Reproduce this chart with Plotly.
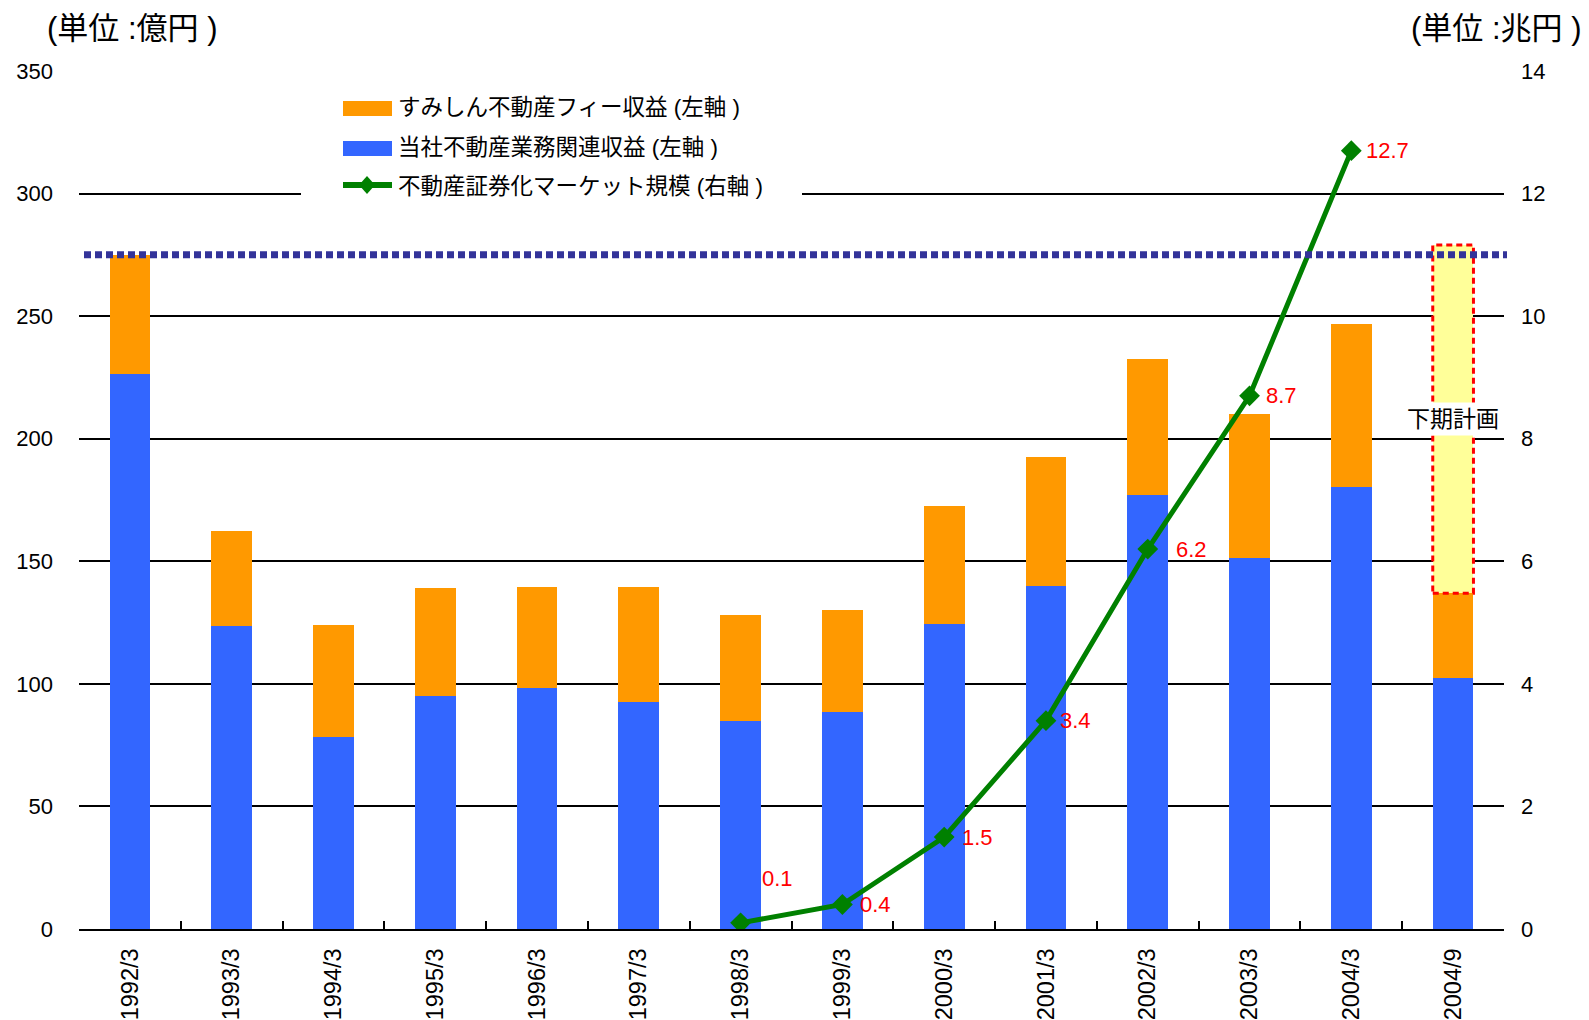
import plotly.graph_objects as go

# ---------------- data ----------------
categories = ["1992/3", "1993/3", "1994/3", "1995/3", "1996/3", "1997/3", "1998/3",
              "1999/3", "2000/3", "2001/3", "2002/3", "2003/3", "2004/3", "2004/9"]
own_revenue = [226.5, 123.5, 78.5, 95, 98.5, 92.5, 85, 88.5, 124.5, 140, 177, 151.5, 180.5, 102.5]
sumishin_fee = [48.5, 39, 45.5, 44, 41, 47, 43, 41.5, 48, 52.5, 55.5, 58.5, 66.5, 34.5]
plan_category = ["2004/9"]
plan_value = [142]
market_categories = ["1998/3", "1999/3", "2000/3", "2001/3", "2002/3", "2003/3", "2004/3"]
market_size = [0.1, 0.4, 1.5, 3.4, 6.2, 8.7, 12.7]
target_level = 275
left_ticks = [0, 50, 100, 150, 200, 250, 300, 350]
right_ticks = [0, 2, 4, 6, 8, 10, 12, 14]

legend_labels = ["すみしん不動産フィー収益 (左軸 )", "当社不動産業務関連収益 (左軸 )", "不動産証券化マーケット規模 (右軸 )"]
left_unit = "(単位 :億円 )"
right_unit = "(単位 :兆円 )"
plan_label = "下期計画"

# ---------------- style ----------------
W, H = 1589, 1020
L, R, T, B = 79, 85, 71, 91
FONT = "Liberation Sans, Arial, Noto Sans CJK JP, sans-serif"
BLUE = "#3366FF"
ORANGE = "#FF9900"
GREEN = "#008000"
YELLOW = "#FFFF99"
NAVY = "#333399"
BAR_W = 0.40
label_shifts = [(37, 44), (33, 0), (33, 0), (30, 0), (44, 0), (32, 0), (36, 0)]

pw = W - L - R
ph = H - T - B


def px(x):
    return (x - L) / pw


def py(y):
    return (H - B - y) / ph


fig = go.Figure()
fig.add_trace(go.Bar(x=categories, y=own_revenue, marker=dict(color=BLUE, line=dict(width=0)),
                     width=BAR_W, name=legend_labels[1], showlegend=False))
fig.add_trace(go.Bar(x=categories, y=sumishin_fee, marker=dict(color=ORANGE, line=dict(width=0)),
                     width=BAR_W, name=legend_labels[0], showlegend=False))
fig.add_trace(go.Bar(x=plan_category, y=plan_value, marker=dict(color=YELLOW, line=dict(width=0)),
                     width=BAR_W, name=plan_label, showlegend=False))
fig.add_trace(go.Scatter(x=market_categories, y=market_size, yaxis="y2", mode="lines+markers",
                         line=dict(color=GREEN, width=5),
                         marker=dict(symbol="diamond", size=16, color=GREEN),
                         name=legend_labels[2], showlegend=False))

shapes = []
annotations = []

# red dashed border around plan segment (computed from data)
pi = categories.index(plan_category[0])
base = own_revenue[pi] + sumishin_fee[pi]
shapes.append(dict(type="rect", xref="x", yref="y", x0=pi - BAR_W / 2, x1=pi + BAR_W / 2,
                   y0=base, y1=base + plan_value[0],
                   line=dict(color="#FF0000", width=3, dash="6px,4px"), layer="above"))
annotations.append(dict(x=plan_category[0], y=base + plan_value[0] / 2, xref="x", yref="y",
                        text=plan_label, showarrow=False, bgcolor="white", borderpad=3,
                        font=dict(family=FONT, size=23, color="black")))

# target dotted line
shapes.append(dict(type="line", xref="paper", yref="y", x0=px(84), x1=px(1507),
                   y0=target_level, y1=target_level,
                   line=dict(color=NAVY, width=7, dash="7px,4px"), layer="above"))

# data labels
for c, v, (dx, dy) in zip(market_categories, market_size, label_shifts):
    annotations.append(dict(x=c, y=v, xref="x", yref="y2", text=f"{v}", showarrow=False,
                            xshift=dx, yshift=dy,
                            font=dict(family=FONT, size=22, color="#FF0000")))

# custom legend
shapes.append(dict(type="rect", xref="paper", yref="paper", x0=px(301), x1=px(802),
                   y0=py(207), y1=py(84), fillcolor="white", line=dict(width=0), layer="above"))
shapes.append(dict(type="rect", xref="paper", yref="paper", x0=px(343), x1=px(392),
                   y0=py(116), y1=py(101), fillcolor=ORANGE, line=dict(width=0), layer="above"))
shapes.append(dict(type="rect", xref="paper", yref="paper", x0=px(343), x1=px(392),
                   y0=py(156), y1=py(141), fillcolor=BLUE, line=dict(width=0), layer="above"))
shapes.append(dict(type="line", xref="paper", yref="paper", x0=px(343), x1=px(392),
                   y0=py(185), y1=py(185), line=dict(color=GREEN, width=6), layer="above"))
cx, cy, hw, hh = 367, 185, 8, 9
shapes.append(dict(type="path", xref="paper", yref="paper",
                   path=f"M {px(cx - hw)},{py(cy)} L {px(cx)},{py(cy - hh)} L {px(cx + hw)},{py(cy)} L {px(cx)},{py(cy + hh)} Z",
                   fillcolor=GREEN, line=dict(width=0), layer="above"))
for lbl, yc in zip(legend_labels, [107, 147, 187]):
    annotations.append(dict(x=px(396), y=py(yc), xref="paper", yref="paper", text=lbl,
                            showarrow=False, xanchor="left", yanchor="middle",
                            font=dict(family=FONT, size=22.5, color="black")))

# unit titles
annotations.append(dict(x=px(45), y=py(28.5), xref="paper", yref="paper", text=left_unit,
                        showarrow=False, xanchor="left", yanchor="middle",
                        font=dict(family=FONT, size=31, color="black")))
annotations.append(dict(x=px(1584), y=py(28.5), xref="paper", yref="paper", text=right_unit,
                        showarrow=False, xanchor="right", yanchor="middle",
                        font=dict(family=FONT, size=31, color="black")))

fig.update_layout(
    width=W, height=H,
    margin=dict(l=L, r=R, t=T, b=B, autoexpand=False),
    paper_bgcolor="white", plot_bgcolor="white",
    barmode="stack", bargap=0.6,
    showlegend=False,
    font=dict(family=FONT, size=22, color="black"),
    xaxis=dict(type="category", categoryorder="array", categoryarray=categories,
               range=[-0.5, len(categories) - 0.5],
               showgrid=False, showline=True, linecolor="black", linewidth=2,
               ticks="inside", tickson="boundaries", ticklen=8, tickwidth=2, tickcolor="black",
               tickangle=-90, tickfont=dict(family=FONT, size=23.5, color="black"),
               ticklabelstandoff=8),
    yaxis=dict(range=[0, 350], tickvals=left_ticks, showgrid=True, gridcolor="black", gridwidth=1.5,
               zeroline=False, showline=False, ticks="",
               tickfont=dict(family=FONT, size=22, color="black"), ticklabelstandoff=25),
    yaxis2=dict(range=[0, 14], tickvals=right_ticks, overlaying="y", side="right",
                showgrid=False, zeroline=False, showline=False, ticks="",
                tickfont=dict(family=FONT, size=22, color="black"), ticklabelstandoff=16),
    shapes=shapes,
    annotations=annotations,
)

fig.write_html("out.html")
